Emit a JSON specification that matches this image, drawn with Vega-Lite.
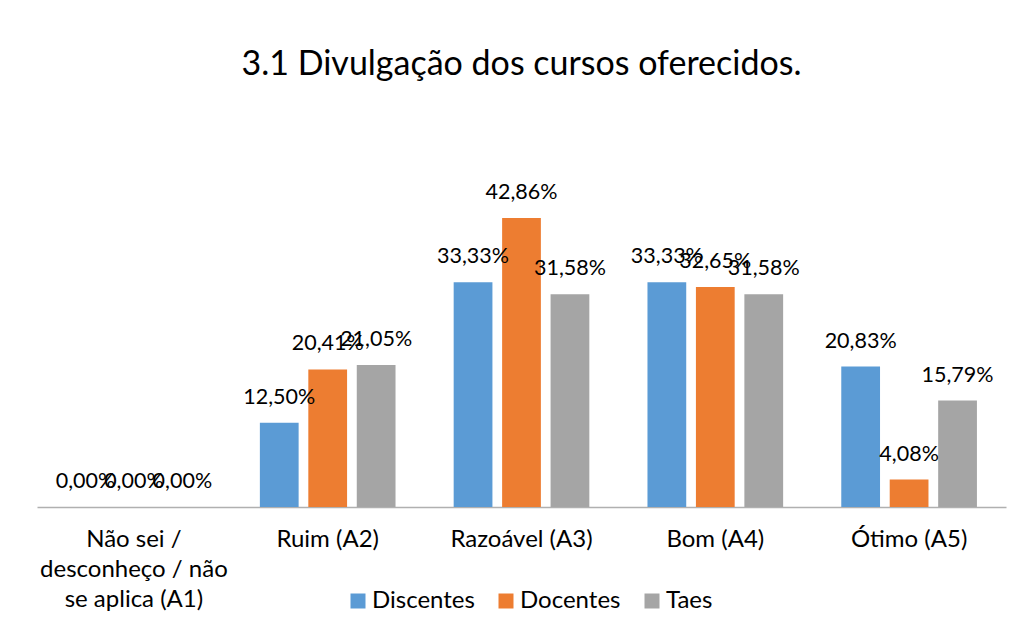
{
  "$schema": "https://vega.github.io/schema/vega-lite/v6.json",
  "autosize": {"type": "none"},
  "width": 969,
  "height": 337,
  "padding": {"left": 37, "top": 170, "right": 16, "bottom": 117},
  "background": "white",
  "config": {
    "view": {"stroke": null},
    "font": "Lato",
    "locale": {"number": {"decimal": ",", "thousands": ".", "grouping": [3], "currency": ["R$", ""]}}
  },
  "title": {
    "text": "3.1 Divulgação dos cursos oferecidos.",
    "font": "Lato",
    "fontSize": 34,
    "fontWeight": "normal",
    "color": "#000000",
    "anchor": "middle",
    "baseline": "alphabetic",
    "offset": 61
  },
  "data": {
    "values": [
      {"categoria": "Não sei / desconheço / não se aplica (A1)", "grupo": "Discentes", "valor": 0},
      {"categoria": "Não sei / desconheço / não se aplica (A1)", "grupo": "Docentes", "valor": 0},
      {"categoria": "Não sei / desconheço / não se aplica (A1)", "grupo": "Taes", "valor": 0},
      {"categoria": "Ruim (A2)", "grupo": "Discentes", "valor": 0.125},
      {"categoria": "Ruim (A2)", "grupo": "Docentes", "valor": 0.2041},
      {"categoria": "Ruim (A2)", "grupo": "Taes", "valor": 0.2105},
      {"categoria": "Razoável (A3)", "grupo": "Discentes", "valor": 0.3333},
      {"categoria": "Razoável (A3)", "grupo": "Docentes", "valor": 0.4286},
      {"categoria": "Razoável (A3)", "grupo": "Taes", "valor": 0.3158},
      {"categoria": "Bom (A4)", "grupo": "Discentes", "valor": 0.3333},
      {"categoria": "Bom (A4)", "grupo": "Docentes", "valor": 0.3265},
      {"categoria": "Bom (A4)", "grupo": "Taes", "valor": 0.3158},
      {"categoria": "Ótimo (A5)", "grupo": "Discentes", "valor": 0.2083},
      {"categoria": "Ótimo (A5)", "grupo": "Docentes", "valor": 0.0408},
      {"categoria": "Ótimo (A5)", "grupo": "Taes", "valor": 0.1579}
    ]
  },
  "encoding": {
    "x": {
      "field": "categoria",
      "type": "nominal",
      "sort": null,
      "scale": {"paddingInner": 0.3, "paddingOuter": 0.15},
      "axis": {
        "title": null,
        "labelAngle": 0,
        "labelFont": "Lato",
        "labelFontSize": 24,
        "labelColor": "#000000",
        "labelPadding": 20,
        "labelLineHeight": 30,
        "labelBaseline": "top",
        "labelLimit": 400,
        "labelExpr": "datum.label == 'Não sei / desconheço / não se aplica (A1)' ? ['Não sei /', 'desconheço / não', 'se aplica (A1)'] : datum.label",
        "ticks": false,
        "domainColor": "#b0b0b0",
        "domainWidth": 1.5,
        "grid": false
      }
    },
    "xOffset": {
      "field": "grupo",
      "type": "nominal",
      "sort": ["Discentes", "Docentes", "Taes"],
      "scale": {"paddingInner": 0.2, "paddingOuter": 0}
    },
    "y": {
      "field": "valor",
      "type": "quantitative",
      "scale": {"domain": [0, 0.5]},
      "axis": null
    }
  },
  "layer": [
    {
      "mark": {"type": "bar"},
      "encoding": {
        "color": {
          "field": "grupo",
          "type": "nominal",
          "sort": ["Discentes", "Docentes", "Taes"],
          "scale": {"domain": ["Discentes", "Docentes", "Taes"], "range": ["#5B9BD5", "#ED7D31", "#A5A5A5"]},
          "legend": {
            "title": null,
            "orient": "none",
            "legendX": 309,
            "legendY": 419,
            "direction": "horizontal",
            "symbolType": "square",
            "symbolSize": 225,
            "symbolStrokeWidth": 0,
            "labelFont": "Lato",
            "labelFontSize": 24,
            "labelColor": "#000000",
            "labelOffset": 2,
            "columnPadding": 19
          }
        }
      }
    },
    {
      "mark": {"type": "text", "baseline": "middle", "dy": -25, "font": "Lato", "fontSize": 21.5, "color": "#000000"},
      "encoding": {
        "text": {"field": "valor", "type": "quantitative", "format": ".2%"}
      }
    }
  ]
}
